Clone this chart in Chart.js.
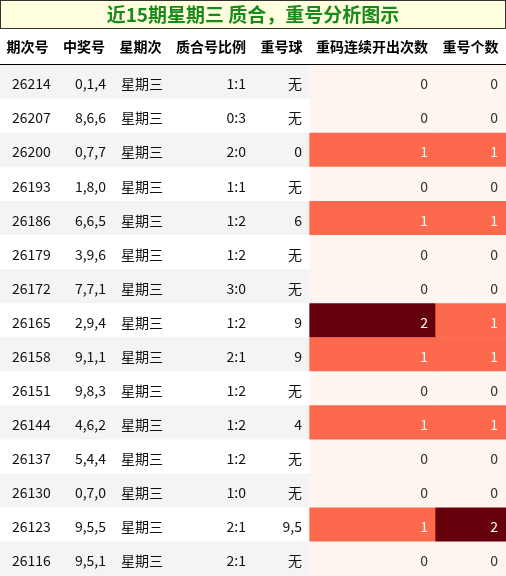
<!DOCTYPE html>
<html>
<head>
<meta charset="utf-8">
<script src="https://cdn.jsdelivr.net/npm/chart.js@4/dist/chart.umd.min.js"></script>
<style>
  body { margin: 0; background: #fff; }
  #wrap { width: 506px; height: 576px; }
</style>
</head>
<body>
<div id="wrap"><canvas id="tbl" width="506" height="576"></canvas></div>
<script>
const headers = ["期次号", "中奖号", "星期次", "质合号比例", "重号球", "重码连续开出次数", "重号个数"];
const issues = ["26214","26207","26200","26193","26186","26179","26172","26165","26158","26151","26144","26137","26130","26123","26116"];
const numbers = ["0,1,4","8,6,6","0,7,7","1,8,0","6,6,5","3,9,6","7,7,1","2,9,4","9,1,1","9,8,3","4,6,2","5,4,4","0,7,0","9,5,5","9,5,1"];
const weekdays = Array(15).fill("星期三");
const ratios = ["1:1","0:3","2:0","1:1","1:2","1:2","3:0","1:2","2:1","1:2","1:2","1:2","1:0","2:1","2:1"];
const repeatBalls = ["无","无","0","无","6","无","无","9","9","无","4","无","无","9,5","无"];
const streakCounts = [0,0,1,0,1,0,0,2,1,0,1,0,0,1,0];
const repeatCounts = [0,0,1,0,1,0,0,1,1,0,1,0,0,2,0];

// column edges in page pixels (used as x-axis units)
const colEdges = [0, 55, 113, 168, 254, 309, 435, 506];

function heatColor(v) {
  return v >= 2 ? "#67000d" : v === 1 ? "#fd694c" : "#fff5f0";
}

const tableText = {
  id: "tableText",
  afterDraw(chart) {
    const ctx = chart.ctx;
    const xs = chart.scales.x, ys = chart.scales.y;
    const px = v => xs.getPixelForValue(v);
    ctx.save();
    // title box
    ctx.fillStyle = "#ffffe0";
    ctx.fillRect(0.5, 0.5, 505, 28);
    ctx.strokeStyle = "#333";
    ctx.lineWidth = 1;
    ctx.strokeRect(0.5, 0.5, 505, 28);
    ctx.fillStyle = "#1a8a1a";
    ctx.font = "bold 19px 'Noto Sans CJK SC', sans-serif";
    ctx.textAlign = "center";
    ctx.textBaseline = "middle";
    ctx.fillText("近15期星期三 质合，重号分析图示", 253, 15);
    // header
    ctx.fillStyle = "#000";
    ctx.font = "bold 14px 'Noto Sans CJK SC', sans-serif";
    headers.forEach((h, i) => {
      ctx.fillText(h, (px(colEdges[i]) + px(colEdges[i + 1])) / 2, 47);
    });
    ctx.beginPath();
    ctx.moveTo(0, 64.5); ctx.lineTo(506, 64.5);
    ctx.strokeStyle = "#000";
    ctx.stroke();
    // body
    ctx.font = "14px 'Noto Sans CJK SC', 'Liberation Sans', sans-serif";
    issues.forEach((iss, r) => {
      const y = ys.getPixelForValue(r) + 2;
      ctx.fillStyle = "#111";
      ctx.textAlign = "left";
      ctx.fillText(iss, 12, y);
      ctx.fillText(weekdays[r], 121, y);
      ctx.textAlign = "right";
      ctx.fillText(numbers[r], 106, y);
      ctx.fillText(ratios[r], 246, y);
      ctx.fillText(repeatBalls[r], 302, y);
      ctx.fillStyle = streakCounts[r] > 0 ? "#fff" : "#333";
      ctx.fillText(String(streakCounts[r]), px(colEdges[6]) - 7, y);
      ctx.fillStyle = repeatCounts[r] > 0 ? "#fff" : "#333";
      ctx.fillText(String(repeatCounts[r]), px(colEdges[7]) - 8, y);
    });
    ctx.restore();
  }
};

const barOpts = { grouped: false, barPercentage: 1, categoryPercentage: 1, borderWidth: 0 };

new Chart("tbl", {
  type: "bar",
  data: {
    labels: issues,
    datasets: [
      Object.assign({
        data: issues.map(() => [colEdges[0], colEdges[5]]),
        backgroundColor: issues.map((_, r) => r % 2 === 0 ? "#f4f4f4" : "#ffffff")
      }, barOpts),
      Object.assign({
        data: streakCounts.map(() => [colEdges[5], colEdges[6]]),
        backgroundColor: streakCounts.map(heatColor)
      }, barOpts),
      Object.assign({
        data: repeatCounts.map(() => [colEdges[6], colEdges[7]]),
        backgroundColor: repeatCounts.map(heatColor)
      }, barOpts)
    ]
  },
  options: {
    indexAxis: "y",
    responsive: false,
    animation: false,
    layout: { padding: { top: 65, left: 0, right: 0, bottom: 0 } },
    scales: {
      x: { type: "linear", min: 0, max: 506, display: false },
      y: { display: false, offset: true }
    },
    plugins: { legend: { display: false }, tooltip: { enabled: false } }
  },
  plugins: [tableText]
});
</script>
</body>
</html>
